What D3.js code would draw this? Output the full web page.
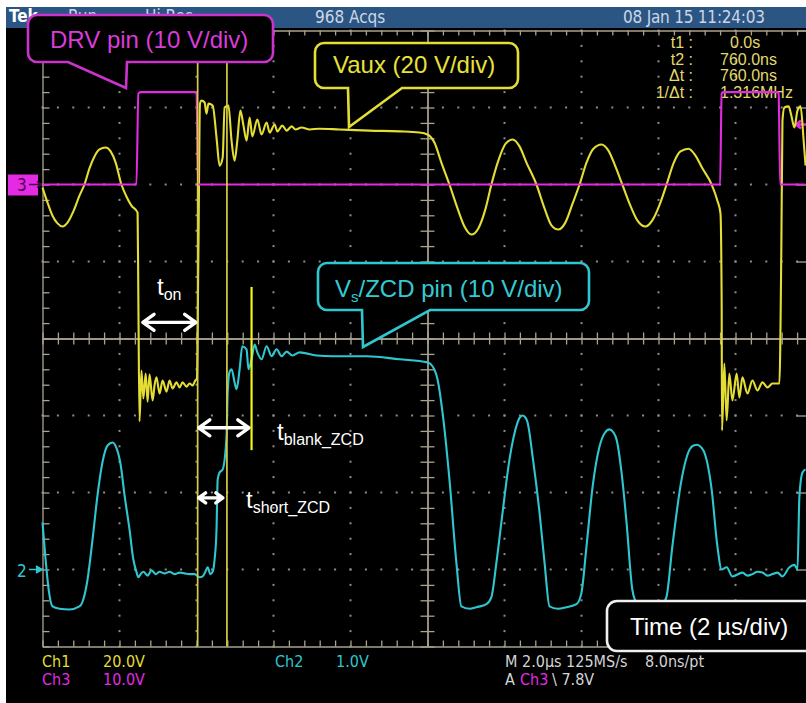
<!DOCTYPE html>
<html lang="en"><head><meta charset="utf-8">
<title>DRV / Vaux / Vs-ZCD scope capture</title>
<script src="https://cdn.jsdelivr.net/npm/d3@7"></script>
<style>
body { margin: 0; background: #fff; }
svg { display: block; }
.narrow { font-family: "Liberation Sans Narrow", "DejaVu Sans Condensed", sans-serif; }
.sans { font-family: "Liberation Sans", Arial, sans-serif; }
</style>
</head>
<body>
<div id="scope"></div>
<script>
// time in µs from the left edge of the graticule (2 µs/div), values in volts

// Ch1, Vaux (20 V/div)
const vaux = [
	[0,-0.8],[0.13,-4.7],[0.26,-8.1],[0.39,-10.1],[0.52,-10.9],[0.65,-9.9],[0.81,-6.8],[0.96,-2.9],[1.09,0],[1.22,4.2],[1.35,7.3],[1.48,9.1],[1.64,9.6],[1.77,8.6],[1.90,5.7],[2.05,0],[2.18,-3.1],[2.31,-5.5],[2.47,-7.3],
	[2.49,-30.1],[2.52,-61.5],[2.57,-48.3],[2.62,-55.6],[2.68,-49.1],[2.73,-56.4],[2.78,-49.3],[2.86,-56.1],[2.91,-52.2],[2.96,-50.1],[3.04,-54.3],[3.12,-50.9],[3.22,-53.8],[3.30,-50.9],[3.38,-53.0],[3.48,-51.4],[3.56,-52.7],[3.64,-51.4],[3.74,-52.5],[3.82,-51.7],[3.90,-52.2],[3.97,-50.9],[4.01,-50.4],
	[4.05,-17.1],[4.09,21.0],[4.13,21.8],[4.21,21.3],[4.26,18.4],[4.31,21.0],[4.42,20.5],[4.52,12.2],[4.60,4.9],[4.68,7.0],[4.73,20.0],[4.83,20.5],[4.91,11.4],[4.99,6.2],[5.06,11.4],[5.14,19.2],[5.22,15.3],[5.30,11.4],[5.38,17.4],[5.45,12.5],[5.58,16.9],[5.69,13.0],[5.82,16.1],[5.90,13.5],[6.03,15.6],[6.10,13.8],[6.23,15.3],[6.34,14.0],[6.47,15.1],[6.57,14.3],[6.73,14.8],[6.94,14.3],[7.19,14.5],[7.71,14.3],[8.49,14.0],[9.27,13.8],[9.79,13.5],[10.0,13.0],
	[10.18,10.9],[10.36,5.7],[10.57,0],[10.78,-6.2],[10.96,-10.9],[11.14,-13.0],[11.32,-11.4],[11.51,-6.2],[11.66,0],[11.84,6.2],[12.03,10.6],[12.21,11.7],[12.39,9.9],[12.57,5.7],[12.83,0],[13.04,-6.2],[13.22,-10.6],[13.40,-11.7],[13.58,-9.9],[13.77,-4.9],[13.95,0],[14.13,5.7],[14.31,9.3],[14.52,10.4],[14.70,8.8],[14.88,4.7],[15.06,0],[15.27,-5.5],[15.45,-9.3],[15.66,-10.9],[15.84,-9.3],[16.03,-5.2],[16.21,0],[16.39,5.5],[16.57,8.6],[16.78,9.3],[16.96,7.5],[17.14,4.2],[17.38,0],[17.53,-4.2],[17.61,-7.5],
	[17.64,-30.1],[17.65,-63.9],[17.71,-46.5],[17.77,-61.3],[17.84,-49.1],[17.92,-56.1],[18.03,-49.1],[18.10,-55.3],[18.18,-50.1],[18.31,-54.3],[18.44,-50.9],[18.57,-53.5],[18.70,-51.4],[18.83,-52.7],[18.96,-51.7],[19.14,-51.7],
	[19.19,-17.1],[19.22,16.6],[19.27,20.0],[19.38,20.3],[19.45,17.9],[19.53,14.8],[19.61,19.2],[19.69,20.3],[19.77,11.4],[19.82,4.9]
];

// Ch2, Vs/ZCD pin (10 V/div)
const vzcd = [
	[0,6.1],[0.08,1.3],[0.16,-2.6],[0.26,-4.8],[0.44,-5.1],[0.70,-5.2],[0.96,-4.8],[1.06,-3.9],[1.17,-1.3],[1.30,3.9],[1.43,9.7],[1.56,14.0],[1.69,16.1],[1.82,16.5],[1.92,15.8],[2.03,13.6],[2.13,9.7],[2.26,5.2],[2.36,1.3],
	[2.44,-0.3],[2.49,-1.0],[2.55,-0.6],[2.62,-0.3],[2.73,-0.8],[2.83,-0.1],[2.94,-0.6],[3.04,-0.3],[3.17,-0.5],[3.30,-0.3],[3.43,-0.6],[3.56,-0.4],[3.69,-0.5],[3.82,-0.6],[3.95,-0.6],[4.08,-1.0],[4.16,-0.9],[4.23,-0.3],[4.29,0.3],[4.36,-0.6],[4.42,-0.3],[4.47,1.3],[4.52,5.2],[4.55,11.7],[4.60,12.6],[4.68,13.0],
	[4.78,17.3],[4.81,23.0],[4.86,25.7],[4.91,26.0],[4.99,24.3],[5.04,23.4],[5.12,26.0],[5.19,29.0],[5.30,28.6],[5.35,26.0],[5.43,27.3],[5.51,29.2],[5.58,28.2],[5.69,27.3],[5.82,29.0],[5.95,27.7],[6.08,28.6],[6.21,27.7],[6.34,28.3],[6.49,27.8],[6.68,28.2],[7.12,27.8],[7.53,27.7],[8.42,27.7],[9.27,27.3],[10.0,26.9],
	[10.13,26.4],[10.26,24.7],[10.39,20.4],[10.57,11.7],[10.75,0.9],[10.88,-4.8],[11.09,-5.1],[11.27,-4.9],[11.53,-4.5],[11.66,-3.6],[11.79,0.9],[11.95,7.4],[12.13,14.3],[12.34,19.1],[12.39,19.7],[12.47,20.0],[12.55,19.7],[12.60,19.1],[12.73,14.7],[12.91,7.4],[13.04,0.9],[13.17,-4.8],[13.38,-5.1],[13.61,-4.9],[13.87,-4.5],[14.0,-3.0],[14.13,3.0],[14.29,10.8],[14.47,16.0],[14.60,17.7],[14.73,18.2],[14.83,17.8],[14.91,16.9],[15.04,12.6],[15.17,6.1],[15.32,-2.6],[15.43,-4.3],[15.64,-4.9],[15.90,-4.9],[16.10,-4.5],[16.21,-3.5],[16.36,3.0],[16.60,11.7],[16.81,15.6],[16.91,16.1],[17.01,16.2],[17.12,15.8],[17.19,15.2],[17.38,10.4],[17.53,3.0],
	[17.64,0],[17.77,0.3],[17.92,-0.9],[18.18,-0.4],[18.31,-0.8],[18.44,-0.6],[18.57,-0.3],[18.70,-0.4],[18.83,-0.8],[18.96,-0.6],[19.09,-0.4],[19.22,-0.9],[19.40,0.3],[19.53,0.6],[19.61,0],[19.66,9.5],[19.74,12.6],[19.82,13.0]
];

// Ch3, DRV pin (10 V/div)
const vdrv = [
	[0,0],[2.44,0],[2.49,11.8],[2.55,12.0],[3.95,12.0],[4.00,11.8],[4.04,0],[17.60,0],[17.64,11.8],[17.68,12.0],[19.09,12.0],[19.12,11.8],[19.16,0],[19.82,0]
];

// cursors (µs on screen) and the three marked intervals
const cursorT1 = 4.03, cursorDt = 0.76;
const blankEnd = 5.43;
const spans = [
	{ sub: "on", t0: 2.58, t1: 4.01, div: 0.21, head: 8 },
	{ sub: "blank_ZCD", t0: 4.03, t1: 5.39, div: -1.16, head: 8 },
	{ sub: "short_ZCD", t0: 4.03, t1: 4.71, div: -2.07, head: 5 },
];

const readouts = [["t1 :", "0.0s"], ["t2 :", "760.0ns"], ["\u0394t :", "760.0ns"], ["1/\u0394t :", "1.316MHz"]];

const W = 806, H = 703;
const svg = d3.select("#scope").append("svg").attr("width", W).attr("height", H);

const x = d3.scaleLinear().domain([0, 20]).range([42.5, 812.5]);
const yDiv = d3.scaleLinear().domain([-4, 4]).range([646.5, 30.5]);

const chan = {
	ch1: { pos: 2, vdiv: 20, color: "#e4de34" },
	ch2: { pos: -3, vdiv: 10, color: "#2fc6d0" },
	ch3: { pos: 2, vdiv: 10, color: "#e22be2" },
};

// screen
svg.append("rect").attr("x", 6).attr("y", 7).attr("width", W - 6).attr("height", H - 7).attr("fill", "#000");
svg.append("rect").attr("x", 6).attr("y", 7).attr("width", W - 6).attr("height", 21).attr("fill", "#2b5684");

const hdr = svg.append("g").attr("class", "narrow").attr("font-size", 17).attr("fill", "#cdd6e4");
hdr.append("text").attr("x", 9).attr("y", 22).attr("fill", "#fff").attr("font-weight", "bold").text("Tek");
hdr.append("text").attr("x", 68).attr("y", 22).text("Run");
hdr.append("text").attr("x", 145).attr("y", 22).text("Hi Res");
hdr.append("text").attr("x", 315).attr("y", 23).text("968 Acqs");
hdr.append("text").attr("x", 623).attr("y", 23).attr("textLength", 142).text("08 Jan 15 11:24:03");

// graticule
const gridColor = "#a9a38f";
const minorX = d3.range(0, 20.001, 0.4);
const minorY = d3.range(-4, 4.001, 0.2);
const majorX = d3.range(2, 19, 2).filter(t => t !== 10);
const majorY = [-3, -2, -1, 1, 2, 3];
const grid = svg.append("g");

const dots = [];
majorX.forEach(t => minorY.forEach(v => dots.push([x(t), yDiv(v)])));
majorY.forEach(v => minorX.forEach(t => dots.push([x(t), yDiv(v)])));
grid.selectAll("rect.dot").data(dots).join("rect").attr("class", "dot")
	.attr("x", d => d[0] - 1).attr("y", d => d[1] - 1).attr("width", 2).attr("height", 2).attr("fill", "#8c8c8c");

function styleAxis(g) {
	g.selectAll("path,line").attr("stroke", gridColor).attr("stroke-width", 1.3);
	g.selectAll("text").remove();
}
const noLbl = () => "";
// frame edges, ticks pointing inwards
grid.append("g").attr("transform", `translate(0,${yDiv(4)})`)
	.call(d3.axisBottom(x).tickValues(minorX).tickSize(5).tickSizeOuter(0).tickFormat(noLbl)).call(styleAxis);
grid.append("g").attr("transform", `translate(0,${yDiv(-4)})`)
	.call(d3.axisTop(x).tickValues(minorX).tickSize(6).tickSizeOuter(0).tickFormat(noLbl)).call(styleAxis);
grid.append("g").attr("transform", `translate(${x(0)},0)`)
	.call(d3.axisRight(yDiv).tickValues(minorY).tickSize(7).tickSizeOuter(0).tickFormat(noLbl)).call(styleAxis);
grid.append("g").attr("transform", `translate(${x(20)},0)`)
	.call(d3.axisLeft(yDiv).tickValues(d3.range(-4, 4.001, 1)).tickSize(16).tickSizeOuter(0).tickFormat(noLbl)).call(styleAxis);
// centre cross, ticks on both sides
[d3.axisTop, d3.axisBottom].forEach(ax => grid.append("g").attr("transform", `translate(0,${yDiv(0)})`)
	.call(ax(x).tickValues(minorX).tickSize(6).tickSizeOuter(0).tickFormat(noLbl)).call(styleAxis));
[d3.axisLeft, d3.axisRight].forEach(ax => grid.append("g").attr("transform", `translate(${x(10)},0)`)
	.call(ax(yDiv).tickValues(minorY).tickSize(7).tickSizeOuter(0).tickFormat(noLbl)).call(styleAxis));

// cursor readouts
const ro = svg.append("g").attr("class", "sans").attr("font-size", 16).attr("fill", "#e2da6c");
readouts.forEach((r, i) => {
	const yy = 48 + i * 16.7;
	ro.append("text").attr("x", 693).attr("y", yy).attr("text-anchor", "end").text(r[0]);
	ro.append("text").attr("x", i === 0 ? 730 : 720).attr("y", yy).text(r[1]);
});

// channel markers
const m3 = svg.append("g");
m3.append("rect").attr("x", 8).attr("y", yDiv(chan.ch3.pos) - 10).attr("width", 30).attr("height", 21).attr("fill", chan.ch3.color);
m3.append("text").attr("class", "narrow").attr("x", 17).attr("y", yDiv(chan.ch3.pos) + 6).attr("font-size", 17).attr("fill", "#500050").text("3");
m3.append("path").attr("d", `M29,${yDiv(2)}H41M37,${yDiv(2) - 3}L41,${yDiv(2)}L37,${yDiv(2) + 3}`).attr("stroke", "#500050").attr("stroke-width", 1.5).attr("fill", "none");
const m2 = svg.append("g");
m2.append("text").attr("class", "narrow").attr("x", 17).attr("y", yDiv(chan.ch2.pos) + 7).attr("font-size", 17).attr("fill", chan.ch2.color).text("2");
m2.append("path").attr("d", `M29,${yDiv(-3)}H41M36,${yDiv(-3) - 3.5}L42,${yDiv(-3)}L36,${yDiv(-3) + 3.5}`).attr("stroke", chan.ch2.color).attr("stroke-width", 1.6).attr("fill", chan.ch2.color);
// trigger level (Ch3 7.8 V) at right edge
const trigY = yDiv(chan.ch3.pos + 7.8 / chan.ch3.vdiv);
svg.append("path").attr("d", `M806,${trigY}H797M801,${trigY - 4}L796,${trigY}L801,${trigY + 4}`).attr("stroke", chan.ch3.color).attr("stroke-width", 2.5).attr("fill", "none");

// traces
function trace(data, c) {
	const line = d3.line()
		.x(d => x(d[0]))
		.y(d => yDiv(c.pos + d[1] / c.vdiv))
		.curve(d3.curveMonotoneX);
	svg.append("path").datum(data)
		.attr("fill", "none").attr("stroke", c.color).attr("stroke-width", 2.1)
		.attr("stroke-linejoin", "round").attr("d", line);
}
trace(vzcd, chan.ch2);
trace(vaux, chan.ch1);
trace(vdrv, chan.ch3);

// cursors
[cursorT1, cursorT1 + cursorDt].forEach(t => {
	svg.append("line").attr("x1", x(t)).attr("x2", x(t)).attr("y1", yDiv(4)).attr("y2", yDiv(-4))
		.attr("stroke", "#d6cc46").attr("stroke-width", 1.7);
});
svg.append("line").attr("x1", x(blankEnd)).attr("x2", x(blankEnd)).attr("y1", yDiv(0.67)).attr("y2", yDiv(-1.45))
	.attr("stroke", "#f2f21a").attr("stroke-width", 2.2);

// interval arrows
const arrows = svg.append("g").attr("stroke", "#fff").attr("stroke-width", 3.4).attr("fill", "none")
	.attr("stroke-linecap", "round").attr("stroke-linejoin", "round");
spans.forEach(s => {
	const a = x(s.t0) + 1, b = x(s.t1) - 1, y = yDiv(s.div), h = s.head, l = h * 1.4;
	arrows.append("path").attr("d", `M${a},${y}H${b}M${a + l},${y - h}L${a},${y}L${a + l},${y + h}M${b - l},${y - h}L${b},${y}L${b - l},${y + h}`);
});
const labelPos = [[157, 295], [277, 440], [246, 508]];
spans.forEach((s, i) => {
	const t = svg.append("text").attr("class", "sans").attr("fill", "#fff")
		.attr("x", labelPos[i][0]).attr("y", labelPos[i][1]).attr("font-size", 24);
	t.append("tspan").text("t");
	t.append("tspan").attr("font-size", 16).attr("dy", 5).text(s.sub);
});

// callouts
function callout(x0, y0, x1, y1, r, ptr) {
	const p = d3.path();
	p.moveTo(x0 + r, y0);
	p.lineTo(x1 - r, y0); p.arcTo(x1, y0, x1, y0 + r, r);
	p.lineTo(x1, y1 - r); p.arcTo(x1, y1, x1 - r, y1, r);
	if (ptr) { p.lineTo(ptr[1], y1); p.lineTo(ptr[2], ptr[3]); p.lineTo(ptr[0], y1); }
	p.lineTo(x0 + r, y1); p.arcTo(x0, y1, x0, y1 - r, r);
	p.lineTo(x0, y0 + r); p.arcTo(x0, y0, x0 + r, y0, r);
	p.closePath();
	return p.toString();
}
function box(d, color) {
	svg.append("path").attr("d", d).attr("fill", "#000").attr("stroke", color).attr("stroke-width", 2.6);
}
box(callout(28, 15, 273, 62, 9, [68, 127, 126, 88]), "#cc33cc");
svg.append("text").attr("class", "sans").attr("x", 50).attr("y", 48).attr("font-size", 24).attr("fill", "#d93cd9").text("DRV pin (10 V/div)");

box(callout(315, 43, 518, 88, 9, [348, 402, 349, 127]), "#e4de34");
svg.append("text").attr("class", "sans").attr("x", 333).attr("y", 73).attr("font-size", 24).attr("fill", "#e8e23a").text("Vaux (20 V/div)");

box(callout(318, 263, 589, 310, 9, [362, 430, 363, 347]), "#2fc6d0");
const vs = svg.append("text").attr("class", "sans").attr("x", 335).attr("y", 297).attr("font-size", 24).attr("fill", "#34cad4");
vs.append("tspan").text("V");
vs.append("tspan").attr("font-size", 15).attr("dy", 5).text("s");
vs.append("tspan").attr("dy", -5).text("/ZCD pin (10 V/div)");

box(callout(607, 601, 830, 651, 10, null), "#f0f0f0");
svg.append("text").attr("class", "sans").attr("x", 630).attr("y", 635).attr("font-size", 24).attr("fill", "#fff").text("Time (2 \u00b5s/div)");

// status line
const st = svg.append("g").attr("class", "narrow").attr("font-size", 16);
const status = [
	[42, 667, "Ch1", chan.ch1.color], [103, 667, "20.0V", chan.ch1.color],
	[42, 685, "Ch3", chan.ch3.color], [103, 685, "10.0V", chan.ch3.color],
	[275, 667, "Ch2", chan.ch2.color], [336, 667, "1.0V", chan.ch2.color],
	[505, 667, "M 2.0\u00b5s 125MS/s", "#d4d4d4"], [645, 667, "8.0ns/pt", "#d4d4d4"],
	[505, 685, "A", "#d4d4d4"], [520, 685, "Ch3", chan.ch3.color], [552, 685, "\\ 7.8V", "#d4d4d4"],
];
status.forEach(s => st.append("text").attr("x", s[0]).attr("y", s[1]).attr("fill", s[3]).text(s[2]));
</script>
</body>
</html>
